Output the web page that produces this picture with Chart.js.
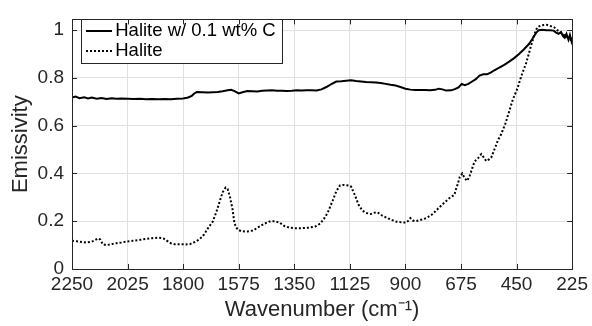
<!DOCTYPE html>
<html><head><meta charset="utf-8">
<script src="https://cdn.jsdelivr.net/npm/chart.js@4/dist/chart.umd.min.js"></script>
<style>html,body{margin:0;padding:0;background:#fff;}#c{display:block;}</style>
</head><body>
<canvas id="c" width="592" height="326"></canvas>
<script>
const xTicks = [2250, 2025, 1800, 1575, 1350, 1125, 900, 675, 450, 225];
const yTicks = [0, 0.2, 0.4, 0.6, 0.8, 1];
const seriesNames = ['Halite w/ 0.1 wt% C', 'Halite'];
const xTitle = 'Wavenumber (cm\u207B\u00B9)';
const yTitle = 'Emissivity';

const carbonWavenumber = [2250,2235,2220,2200,2185,2170,2150,2130,2110,2090,2070,2050,2025,2000,1975,1950,1925,1900,1875,1850,1825,1800,1780,1765,1755,1745,1720,1700,1680,1660,1640,1620,1605,1590,1575,1560,1540,1520,1500,1480,1460,1440,1420,1400,1380,1360,1340,1320,1300,1280,1260,1240,1220,1200,1180,1160,1140,1120,1100,1080,1060,1040,1020,1000,980,960,940,920,900,880,860,840,820,800,780,765,750,735,715,700,685,672,660,645,630,615,600,585,570,555,540,520,500,480,460,440,420,400,385,370,360,345,330,315,300,290,280,270,262,255,248,240,234,228,225];
const carbonEmissivity = [0.718,0.722,0.715,0.719,0.714,0.718,0.713,0.716,0.712,0.715,0.713,0.714,0.713,0.712,0.713,0.711,0.712,0.711,0.712,0.711,0.713,0.714,0.718,0.725,0.735,0.741,0.740,0.739,0.740,0.741,0.744,0.748,0.750,0.744,0.735,0.740,0.745,0.744,0.743,0.746,0.747,0.748,0.746,0.746,0.745,0.746,0.748,0.747,0.748,0.748,0.747,0.752,0.762,0.774,0.785,0.786,0.788,0.790,0.787,0.785,0.783,0.782,0.781,0.779,0.775,0.771,0.768,0.762,0.755,0.751,0.749,0.749,0.749,0.748,0.750,0.755,0.752,0.747,0.748,0.753,0.760,0.775,0.770,0.775,0.785,0.795,0.810,0.815,0.815,0.822,0.832,0.843,0.855,0.868,0.883,0.900,0.920,0.942,0.965,0.990,1.000,1.002,1.000,1.000,0.998,0.990,0.985,0.992,0.975,0.968,0.985,0.960,0.980,0.955,0.970];

const haliteWavenumber = [2250,2230,2210,2190,2170,2155,2145,2135,2125,2110,2090,2070,2050,2028,2000,1975,1950,1925,1900,1880,1865,1850,1835,1810,1790,1773,1755,1733,1715,1700,1680,1665,1650,1640,1628,1620,1610,1600,1592,1580,1563,1540,1518,1495,1470,1450,1430,1410,1390,1370,1350,1320,1290,1265,1245,1230,1215,1195,1180,1165,1150,1130,1120,1105,1090,1075,1060,1040,1025,1013,995,977,955,936,915,896,885,880,870,860,840,815,790,763,740,718,702,695,690,680,670,660,650,640,630,620,605,593,585,573,560,552,540,525,512,495,480,465,447,430,411,398,387,375,366,350,330,315,298,285,265,245,229,225];
const haliteEmissivity = [0.118,0.116,0.113,0.111,0.114,0.122,0.128,0.123,0.103,0.100,0.104,0.108,0.111,0.115,0.119,0.122,0.126,0.129,0.131,0.128,0.118,0.108,0.104,0.104,0.103,0.104,0.112,0.125,0.145,0.170,0.199,0.240,0.290,0.321,0.341,0.335,0.300,0.250,0.190,0.165,0.158,0.157,0.161,0.175,0.190,0.199,0.200,0.195,0.180,0.173,0.171,0.171,0.173,0.178,0.190,0.210,0.235,0.285,0.325,0.350,0.352,0.350,0.345,0.310,0.270,0.245,0.235,0.230,0.236,0.237,0.224,0.215,0.205,0.198,0.195,0.195,0.205,0.213,0.203,0.200,0.205,0.213,0.230,0.258,0.280,0.300,0.310,0.335,0.350,0.385,0.400,0.380,0.369,0.390,0.420,0.450,0.465,0.481,0.470,0.452,0.460,0.468,0.500,0.540,0.565,0.610,0.660,0.710,0.755,0.810,0.863,0.910,0.951,0.990,1.012,1.020,1.023,1.018,1.012,1.000,0.985,0.970,0.958,0.955];

const FONT = "'Liberation Sans', Arial, Helvetica, sans-serif";
const AXIS_COLOR = '#262626';

function zip(xs, ys) { return xs.map((x, i) => ({ x: x, y: ys[i] })); }

function makeSample(dash) {
  const cv = document.createElement('canvas');
  cv.width = 40; cv.height = 8;
  const c = cv.getContext('2d');
  c.strokeStyle = '#000';
  c.lineWidth = 2;
  c.setLineDash(dash);
  c.beginPath(); c.moveTo(10, 4); c.lineTo(36, 4); c.stroke();
  return cv;
}
const samples = [makeSample([]), makeSample([2, 2])];

const frame = {
  id: 'frame',
  afterLayout(chart) {
    const lg = chart.legend;
    if (!lg) return;
    lg.left = 84.5; lg.top = 20.25;
    lg.right = lg.left + lg.width; lg.bottom = lg.top + lg.height;
    if (!lg._patched) {
      const orig = lg.draw.bind(lg);
      lg.draw = function () {
        const ctx = chart.ctx;
        ctx.save();
        ctx.fillStyle = '#fff';
        ctx.fillRect(81.5, 19.5, 201, 44);
        ctx.strokeStyle = AXIS_COLOR; ctx.lineWidth = 1;
        ctx.strokeRect(81.5, 19.5, 201, 44);
        ctx.restore();
        orig();
      };
      lg._patched = true;
    }
  },
  afterDraw(chart) {
    const { ctx, chartArea: a, scales } = chart;
    ctx.save();
    ctx.strokeStyle = AXIS_COLOR; ctx.lineWidth = 1;
    ctx.beginPath();
    const L = 5;
    xTicks.forEach(v => {
      const px = Math.round(scales.x.getPixelForValue(v)) + 0.5;
      ctx.moveTo(px, a.bottom); ctx.lineTo(px, a.bottom - L);
      ctx.moveTo(px, a.top); ctx.lineTo(px, a.top + L);
    });
    yTicks.forEach(v => {
      const py = Math.round(scales.y.getPixelForValue(v)) + 0.5;
      ctx.moveTo(a.left, py); ctx.lineTo(a.left + L, py);
      ctx.moveTo(a.right, py); ctx.lineTo(a.right - L, py);
    });
    ctx.stroke();
    ctx.strokeRect(Math.round(a.left) + 0.5, Math.round(a.top) + 0.5, Math.round(a.right - a.left), Math.round(a.bottom - a.top));
    ctx.restore();
  }
};

new Chart(document.getElementById('c'), {
  type: 'line',
  data: {
    datasets: [
      { label: seriesNames[0], data: zip(carbonWavenumber, carbonEmissivity), borderColor: '#000', borderWidth: 2, pointRadius: 0, tension: 0, fill: false },
      { label: seriesNames[1], data: zip(haliteWavenumber, haliteEmissivity), borderColor: '#000', borderWidth: 2, borderDash: [2, 2], pointRadius: 0, tension: 0, fill: false }
    ]
  },
  options: {
    responsive: false,
    animation: false,
    devicePixelRatio: 1,
    layout: { padding: { left: 0, right: 19, top: 12, bottom: 0 } },
    plugins: {
      tooltip: { enabled: false },
      legend: {
        position: 'chartArea',
        align: 'start',
        labels: {
          font: { family: FONT, size: 18.5 },
          color: '#000',
          usePointStyle: true,
          pointStyleWidth: 20,
          padding: 1.5,
          generateLabels(chart) {
            return chart.data.datasets.map((ds, i) => ({
              text: ds.label, pointStyle: samples[i], lineWidth: 0,
              fillStyle: 'rgba(0,0,0,0)', strokeStyle: '#000', fontColor: '#000',
              hidden: false, datasetIndex: i
            }));
          }
        }
      }
    },
    scales: {
      x: {
        type: 'linear', reverse: true, min: 225, max: 2250,
        afterBuildTicks: s => { s.ticks = xTicks.map(v => ({ value: v })); },
        afterFit: s => { s.height = 57; },
        ticks: { font: { family: FONT, size: 19 }, color: AXIS_COLOR, padding: 4, maxRotation: 0, autoSkip: false, callback: v => String(v) },
        grid: { color: '#e0e0e0', drawTicks: false, lineWidth: 1 },
        border: { display: false },
        title: { display: true, text: xTitle, font: { family: FONT, size: 22, lineHeight: 1.2 }, color: AXIS_COLOR, padding: { top: 0, bottom: 3 } }
      },
      y: {
        type: 'linear', min: 0, max: 1.045,
        afterBuildTicks: s => { s.ticks = yTicks.map(v => ({ value: v })); },
        afterFit: s => { s.width = 72; },
        ticks: { font: { family: FONT, size: 19 }, color: AXIS_COLOR, padding: 8, callback: v => String(v) },
        grid: { color: '#e0e0e0', drawTicks: false, lineWidth: 1 },
        border: { display: false },
        title: { display: true, text: yTitle, font: { family: FONT, size: 22, lineHeight: 1.2 }, color: AXIS_COLOR, padding: { top: 8, bottom: 0 } }
      }
    }
  },
  plugins: [frame]
});
</script>
</body></html>
